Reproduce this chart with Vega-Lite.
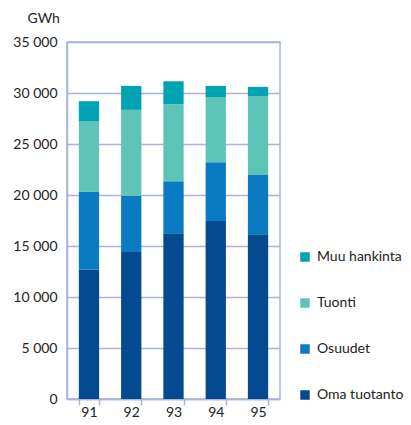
{
  "$schema": "https://vega.github.io/schema/vega-lite/v6.json",
  "autosize": "none",
  "width": 213,
  "height": 357,
  "padding": {"left": 67, "top": 42, "right": 131, "bottom": 26},
  "background": "white",
  "config": {
    "font": "Lato",
    "view": {"stroke": "#a9b5d6", "strokeWidth": 1.5}
  },
  "data": {
    "values": [
      {"year": "91", "type": "Oma tuotanto", "order": 1, "value": 12700},
      {"year": "91", "type": "Osuudet", "order": 2, "value": 7650},
      {"year": "91", "type": "Tuonti", "order": 3, "value": 6900},
      {"year": "91", "type": "Muu hankinta", "order": 4, "value": 1950},
      {"year": "92", "type": "Oma tuotanto", "order": 1, "value": 14400},
      {"year": "92", "type": "Osuudet", "order": 2, "value": 5500},
      {"year": "92", "type": "Tuonti", "order": 3, "value": 8450},
      {"year": "92", "type": "Muu hankinta", "order": 4, "value": 2350},
      {"year": "93", "type": "Oma tuotanto", "order": 1, "value": 16250},
      {"year": "93", "type": "Osuudet", "order": 2, "value": 5100},
      {"year": "93", "type": "Tuonti", "order": 3, "value": 7550},
      {"year": "93", "type": "Muu hankinta", "order": 4, "value": 2250},
      {"year": "94", "type": "Oma tuotanto", "order": 1, "value": 17450},
      {"year": "94", "type": "Osuudet", "order": 2, "value": 5750},
      {"year": "94", "type": "Tuonti", "order": 3, "value": 6400},
      {"year": "94", "type": "Muu hankinta", "order": 4, "value": 1100},
      {"year": "95", "type": "Oma tuotanto", "order": 1, "value": 16150},
      {"year": "95", "type": "Osuudet", "order": 2, "value": 5800},
      {"year": "95", "type": "Tuonti", "order": 3, "value": 7750},
      {"year": "95", "type": "Muu hankinta", "order": 4, "value": 900}
    ]
  },
  "mark": {"type": "bar"},
  "encoding": {
    "x": {
      "field": "year",
      "type": "nominal",
      "scale": {"paddingInner": 0.52, "paddingOuter": 0.28},
      "axis": {
        "title": null,
        "labelAngle": 0,
        "labelFontSize": 14,
        "labelColor": "#222",
        "labelPadding": 0,
        "tickBand": "extent",
        "tickSize": 6,
        "tickColor": "#a9b5d6",
        "tickWidth": 1.5,
        "domainColor": "#a9b5d6",
        "domainWidth": 1.5,
        "grid": false
      }
    },
    "y": {
      "field": "value",
      "type": "quantitative",
      "aggregate": "sum",
      "stack": "zero",
      "scale": {"domain": [0, 35000], "nice": false},
      "axis": {
        "title": "GWh",
        "titleAngle": 0,
        "titleAlign": "left",
        "titleBaseline": "alphabetic",
        "titleX": -40,
        "titleY": -20,
        "titleFontSize": 14,
        "titleFontWeight": "normal",
        "titleColor": "#222",
        "values": [0, 5000, 10000, 15000, 20000, 25000, 30000, 35000],
        "labelExpr": "replace(format(datum.value, ','), ',', ' ')",
        "labelFontSize": 14,
        "labelColor": "#222",
        "labelPadding": 10,
        "ticks": false,
        "grid": true,
        "gridColor": "#a9b5d6",
        "gridWidth": 1.5,
        "domainColor": "#a9b5d6",
        "domainWidth": 1.5
      }
    },
    "color": {
      "field": "type",
      "type": "nominal",
      "scale": {
        "domain": ["Muu hankinta", "Tuonti", "Osuudet", "Oma tuotanto"],
        "range": ["#00a3b3", "#5ec4b8", "#0a7bc2", "#034a91"]
      },
      "legend": {
        "title": null,
        "orient": "none",
        "legendX": 231,
        "legendY": 208,
        "symbolType": "square",
        "symbolSize": 90,
        "symbolStrokeWidth": 0,
        "labelFontSize": 14,
        "labelLimit": 200,
        "labelColor": "#222",
        "labelOffset": 5,
        "rowPadding": 32
      }
    },
    "order": {"field": "order", "type": "quantitative", "sort": "ascending"}
  }
}
